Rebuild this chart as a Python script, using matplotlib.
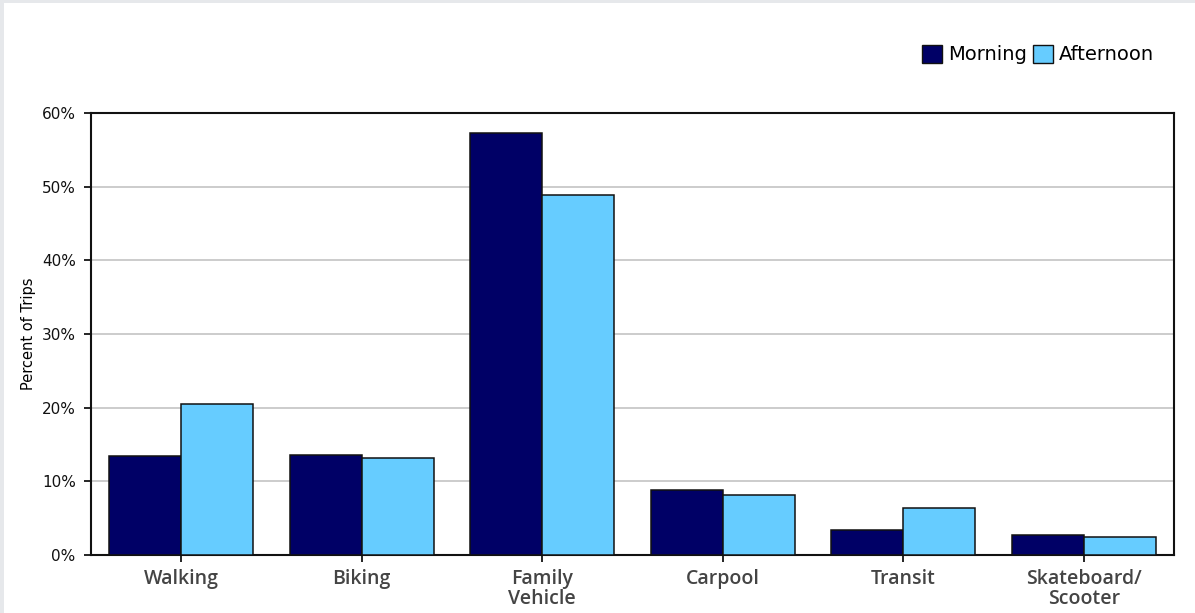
import matplotlib
matplotlib.use("Agg")
import matplotlib.pyplot as plt
import numpy as np
from matplotlib.patches import Rectangle, Patch

categories = ["Walking", "Biking", "Family\nVehicle", "Carpool", "Transit", "Skateboard/\nScooter"]
morning = [13.4, 13.6, 57.3, 8.8, 3.4, 2.7]
afternoon = [20.5, 13.2, 48.9, 8.1, 6.4, 2.4]
yticks = [0, 10, 20, 30, 40, 50, 60]

navy = "#000066"
sky = "#66ccff"

plt.rcParams["font.family"] = ["DejaVu Sans"]

fig = plt.figure(figsize=(11.95, 6.13), dpi=100, facecolor="#e6e8eb")
# white page inside the thin grey frame (top and left)
fig.patches.append(Rectangle((4 / 1195, 0), 1, 1 - 3 / 613, transform=fig.transFigure,
                             facecolor="white", edgecolor="none", zorder=-10))

ax = fig.add_axes([91 / 1195, 1 - 555 / 613, (1174 - 91) / 1195, (555 - 113) / 613])
x = np.arange(len(categories))
w = 0.4
ax.bar(x - w / 2, morning, w, color=navy, edgecolor="#111111", linewidth=1.1, zorder=3)
ax.bar(x + w / 2, afternoon, w, color=sky, edgecolor="#111111", linewidth=1.1, zorder=3)

ax.set_xlim(-0.5, len(categories) - 0.5)
ax.set_ylim(0, 60)
ax.set_yticks(yticks)
ax.set_yticklabels([f"{v}%" for v in yticks], fontsize=11, color="#111111")
ax.set_xticks(x)
ax.set_xticklabels(categories, fontsize=14, color="#444444", family="Open Sans",
                   fontweight="semibold", linespacing=1.0)
ax.tick_params(axis="y", length=5, width=1.2, pad=6)
ax.tick_params(axis="x", length=5, width=1.2, pad=5)
ax.yaxis.grid(True, color="#c4c4c4", linewidth=1.2, zorder=0)
ax.set_axisbelow(True)
for s in ax.spines.values():
    s.set_linewidth(1.5)
    s.set_color("#111111")

ax.set_ylabel("Percent of Trips", fontsize=10.5, labelpad=4)

handles = [Patch(facecolor=navy, edgecolor="#111111", label="Morning"),
           Patch(facecolor=sky, edgecolor="#111111", label="Afternoon")]
fig.legend(handles=handles, loc="upper right", bbox_to_anchor=(1164 / 1195, 1 - 35 / 613),
           ncol=2, frameon=False, fontsize=14, handlelength=1.05, handleheight=1.05,
           handletextpad=0.3, columnspacing=0.3, borderpad=0)

fig.savefig("out.png", dpi=100, facecolor=fig.get_facecolor())
